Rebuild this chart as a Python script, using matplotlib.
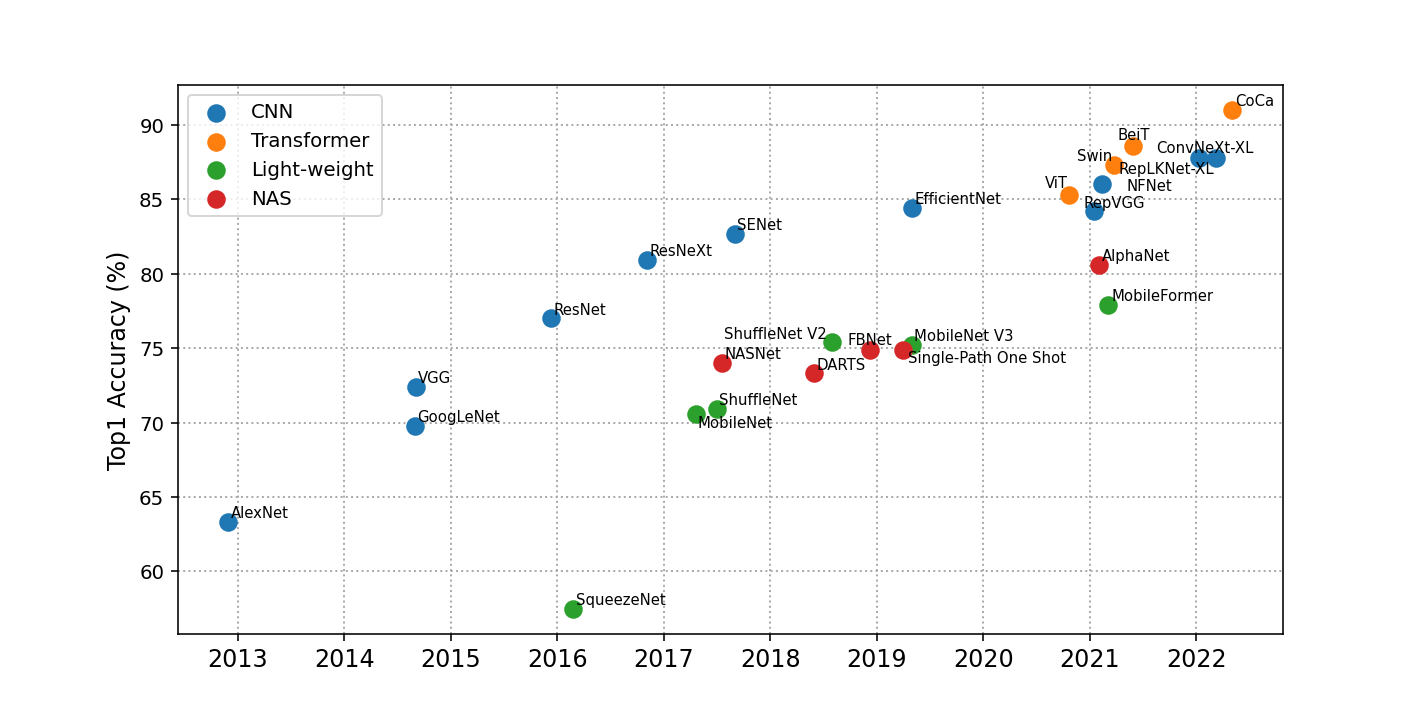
import matplotlib
matplotlib.use("Agg")
import matplotlib.pyplot as plt

# model name, release (fractional year), top-1 accuracy
cnn_names = ["AlexNet", "GoogLeNet", "VGG", "ResNet", "ResNeXt", "SENet",
             "EfficientNet", "RepVGG", "NFNet", "ConvNeXt-XL", "RepLKNet-XL"]
cnn_year = [2012.91, 2014.66, 2014.67, 2015.94, 2016.84, 2017.67,
            2019.33, 2021.04, 2021.12, 2022.03, 2022.19]
cnn_acc = [63.3, 69.8, 72.4, 77.0, 80.9, 82.7, 84.4, 84.2, 86.0, 87.8, 87.8]

tf_names = ["ViT", "Swin", "BeiT", "CoCa"]
tf_year = [2020.81, 2021.23, 2021.41, 2022.34]
tf_acc = [85.3, 87.3, 88.6, 91.0]

lw_names = ["SqueezeNet", "MobileNet", "ShuffleNet", "ShuffleNet V2",
            "MobileNet V3", "MobileFormer"]
lw_year = [2016.15, 2017.30, 2017.50, 2018.58, 2019.33, 2021.17]
lw_acc = [57.5, 70.6, 70.9, 75.4, 75.2, 77.9]

nas_names = ["NASNet", "DARTS", "FBNet", "Single-Path One Shot", "AlphaNet"]
nas_year = [2017.55, 2018.41, 2018.94, 2019.25, 2021.09]
nas_acc = [74.0, 73.3, 74.9, 74.9, 80.6]

# label placement: (dx, dy) in points, horizontal alignment
default_off = ((1.2, 2.2), "left")
label_off = {
    "MobileNet": ((1.0, -7.0), "left"),
    "ShuffleNet V2": ((-2.5, 2.0), "right"),
    "FBNet": ((0.0, 2.5), "center"),
    "Single-Path One Shot": ((2.5, -6.5), "left"),
    "RepVGG": ((-5.5, 2.0), "left"),
    "NFNet": ((12.0, -3.0), "left"),
    "ViT": ((-1.0, 3.5), "right"),
    "Swin": ((-1.0, 2.5), "right"),
    "BeiT": ((0.0, 3.0), "center"),
    "ConvNeXt-XL": ((3.0, 2.5), "center"),
    "RepLKNet-XL": ((-1.0, -8.0), "right"),
    "MobileFormer": ((2.0, 2.5), "left"),
}

fig, ax = plt.subplots(figsize=(10, 5), dpi=142.5)
ax.set_axisbelow(True)
ax.grid(True, linestyle=":", color="darkgray", linewidth=1)

groups = [("CNN", cnn_names, cnn_year, cnn_acc, "tab:blue"),
          ("Transformer", tf_names, tf_year, tf_acc, "tab:orange"),
          ("Light-weight", lw_names, lw_year, lw_acc, "tab:green"),
          ("NAS", nas_names, nas_year, nas_acc, "tab:red")]

for label, names, xs, ys, c in groups:
    ax.scatter(xs, ys, s=70, color=c, label=label, zorder=3)
    for n, x, y in zip(names, xs, ys):
        off, ha = label_off.get(n, default_off)
        ax.annotate(n, (x, y), xytext=off, textcoords="offset points",
                    ha=ha, va="baseline", fontsize=7.5, zorder=4)

ax.set_xticks(range(2013, 2023))
ax.tick_params(axis="x", labelsize=12)
ax.tick_params(axis="y", labelsize=10)
ax.set_ylabel("Top1 Accuracy (%)", fontsize=12)
ax.legend(loc="upper left", fontsize=10)

plt.savefig("out.png", dpi=142.5)
